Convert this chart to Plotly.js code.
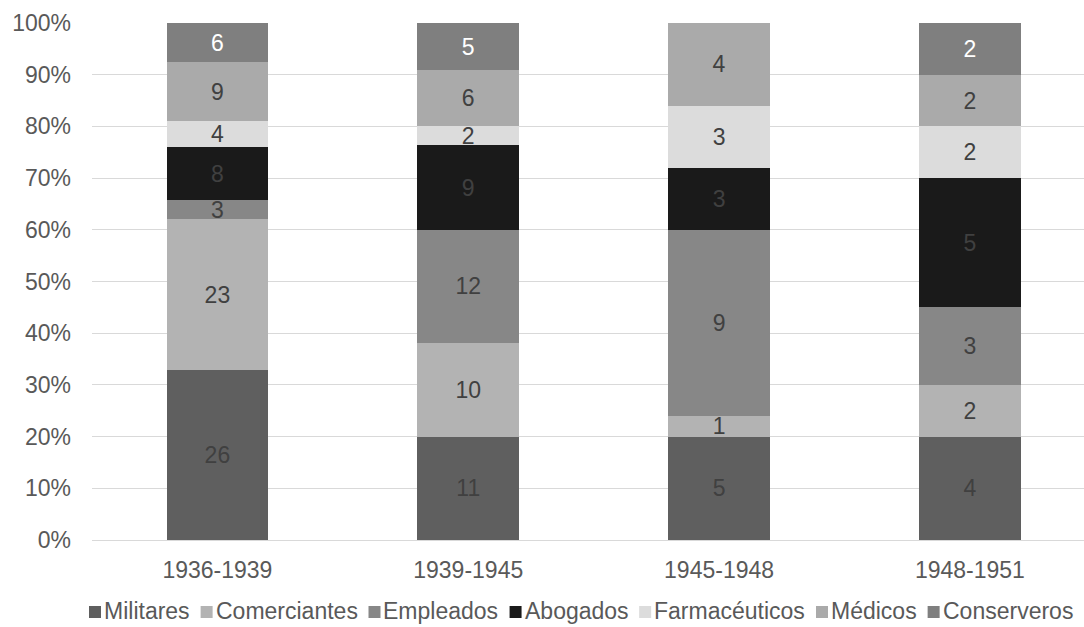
<!DOCTYPE html>
<html>
<head>
<meta charset="utf-8">
<script src="https://cdn.plot.ly/plotly-3.0.1.min.js"></script>
<style>html,body{margin:0;padding:0;background:#fff;}#chart{width:1084px;height:627px;}</style>
</head>
<body>
<div id="chart"></div>
<script>
const periods = ['1936-1939', '1939-1945', '1945-1948', '1948-1951'];
const militares = [26, 11, 5, 4];
const comerciantes = [23, 10, 1, 2];
const empleados = [3, 12, 9, 3];
const abogados = [8, 9, 3, 5];
const farmaceuticos = [4, 2, 3, 2];
const medicos = [9, 6, 4, 2];
const conserveros = [6, 5, 0, 2];

const seriesNames = ['Militares', 'Comerciantes', 'Empleados', 'Abogados', 'Farmacéuticos', 'Médicos', 'Conserveros'];
const seriesValues = [militares, comerciantes, empleados, abogados, farmaceuticos, medicos, conserveros];
const seriesColors = ['#5f5f5f', '#b3b3b3', '#878787', '#1a1a1a', '#dcdcdc', '#aaaaaa', '#7f7f7f'];
const labelColors = ['#404040', '#404040', '#404040', '#404040', '#404040', '#404040', '#ffffff'];

const FONT = 'Liberation Sans, Arial, sans-serif';
const FS = 23;
const W = 1084, H = 627;
const M = {l: 92, r: 0, t: 23, b: 87};
const PW = W - M.l - M.r, PH = H - M.t - M.b;

const traces = seriesNames.map((name, i) => ({
  type: 'bar',
  name: name,
  x: periods,
  y: seriesValues[i],
  text: seriesValues[i].map(v => v ? String(v) : ''),
  textposition: 'inside',
  insidetextanchor: 'middle',
  textangle: 0,
  textfont: {family: FONT, size: FS, color: labelColors[i]},
  marker: {color: seriesColors[i], line: {width: 0}},
  hoverinfo: 'none',
  showlegend: false,
  width: 0.405
}));

// custom legend (square + text, tightly packed like the original)
const ctx = document.createElement('canvas').getContext('2d');
ctx.font = FS + 'px "Liberation Sans"';
const SQ = 12, GAP1 = 3, GAP2 = 11;
const widths = seriesNames.map(n => ctx.measureText(n).width);
const total = widths.reduce((a, b) => a + b, 0) + seriesNames.length * (SQ + GAP1) + (seriesNames.length - 1) * GAP2;
const centerX = 581;
const legendY = 611; // pixel center of legend row
let cx = centerX - total / 2;
const shapes = [];
const annotations = [];
const px2x = p => (p - M.l) / PW;
const py2y = p => (H - M.b - p) / PH;
seriesNames.forEach((n, i) => {
  shapes.push({
    type: 'rect', xref: 'paper', yref: 'paper',
    x0: px2x(cx), x1: px2x(cx + SQ),
    y0: py2y(legendY + 7), y1: py2y(legendY + 7 - SQ),
    fillcolor: seriesColors[i], line: {width: 0}
  });
  cx += SQ + GAP1;
  annotations.push({
    xref: 'paper', yref: 'paper', x: px2x(cx), y: py2y(legendY),
    xanchor: 'left', yanchor: 'middle', showarrow: false,
    text: n, borderpad: 0, borderwidth: 0,
    font: {family: FONT, size: FS, color: '#595959'}
  });
  cx += widths[i] + GAP2;
});

const layout = {
  width: W,
  height: H,
  margin: M,
  barmode: 'stack',
  barnorm: 'percent',
  paper_bgcolor: '#ffffff',
  plot_bgcolor: '#ffffff',
  uniformtext: {mode: 'show', minsize: FS},
  font: {family: FONT, size: FS, color: '#595959'},
  showlegend: false,
  xaxis: {
    type: 'category',
    range: [-0.5, 3.455],
    showgrid: false,
    showline: true,
    linecolor: '#d9d9d9',
    linewidth: 1,
    ticks: '',
    ticklabelstandoff: 9,
    tickfont: {family: FONT, size: FS, color: '#595959'},
    fixedrange: true
  },
  yaxis: {
    range: [0, 100],
    dtick: 10,
    ticksuffix: '%',
    showgrid: true,
    gridcolor: '#d9d9d9',
    gridwidth: 1,
    zeroline: false,
    showline: false,
    ticks: '',
    ticklabelstandoff: 20,
    tickfont: {family: FONT, size: FS, color: '#595959'},
    fixedrange: true
  },
  shapes: shapes,
  annotations: annotations
};

Plotly.newPlot('chart', traces, layout, {displayModeBar: false, staticPlot: true});
</script>
</body>
</html>
